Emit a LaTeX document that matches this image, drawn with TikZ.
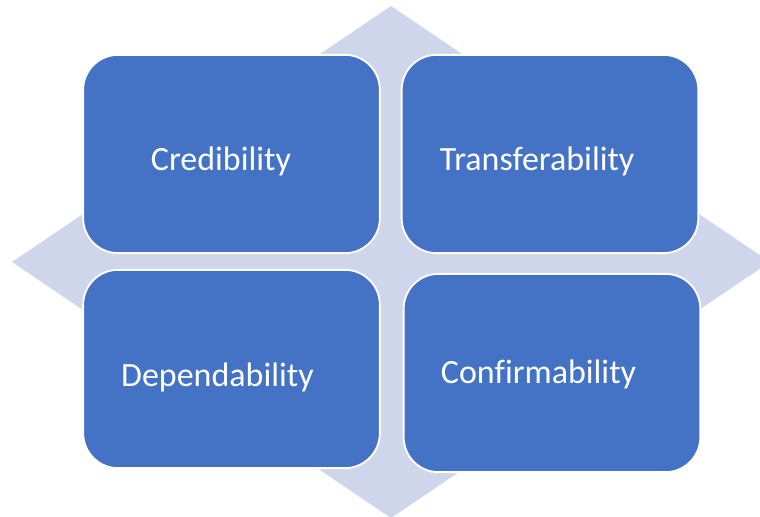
\documentclass[tikz,border=0pt]{standalone}
\usepackage{fontspec}
\setmainfont[Ligatures=NoCommon]{Carlito}
\usetikzlibrary{positioning}
\definecolor{qblue}{RGB}{68,114,196}
\definecolor{qlilac}{RGB}{207,213,234}
\tikzset{
  crit/.style={draw=white, line width=1.6pt, fill=qblue, rounded corners=1.05cm,
    minimum width=8.9cm, minimum height=5.95cm, inner sep=0pt},
  critlabel/.style={text=white, inner sep=0pt, font=\fontsize{29}{32}\selectfont},
  backdrop/.style={fill=qlilac, draw=none}
}

\begin{document}
\begin{tikzpicture}[x=0.03cm,y=-0.03cm]
  \useasboundingbox (0,0) rectangle (760,517);
  \clip (0,0) rectangle (760,517);
  % diamond behind the four boxes
  \fill[backdrop] (391,6) -- (770,262) -- (391,518) -- (12,262) -- cycle;
  % the four criteria, text sits a little left of centre
  \node[crit, label={[critlabel, xshift=-9pt, yshift=-6pt]center:Credibility}] (cred) at (231.5,154) {};
  \node[crit, label={[critlabel, xshift=-11pt, yshift=-6pt]center:Transferability}] (trans) at (550,154) {};
  \node[crit, label={[critlabel, xshift=-12pt, yshift=-7pt]center:Dependability}] (dep) at (231.5,369) {};
  \node[crit, label={[critlabel, xshift=-11.5pt, yshift=-1pt]center:Confirmability}] (conf) at (552,373) {};
\end{tikzpicture}
\end{document}
